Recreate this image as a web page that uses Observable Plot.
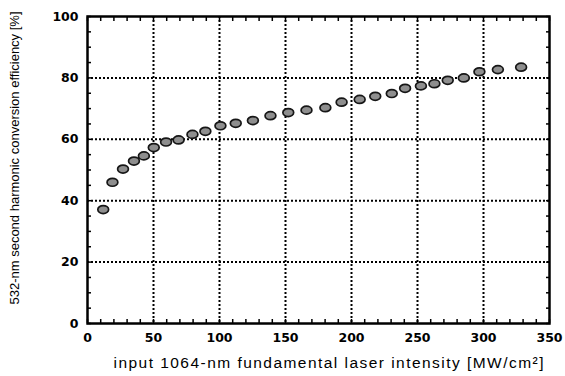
<!DOCTYPE html>
<html>
<head>
<meta charset="utf-8">
<script src="https://cdn.jsdelivr.net/npm/d3@7"></script>
<script src="https://cdn.jsdelivr.net/npm/@observablehq/plot@0.6"></script>
<style>
  html, body { margin: 0; padding: 0; background: #fff; }
</style>
</head>
<body>
<div id="chart"></div>
<script>
// Data
const intensity = [11.9, 18.9, 26.9, 35.2, 42.7, 50.2, 59.5, 69.0, 79.5, 89.3, 100.7, 112.3, 125.3, 138.6, 152.1, 165.9, 180.2, 192.5, 206.2, 218.0, 230.5, 240.6, 252.6, 262.8, 272.9, 285.1, 296.9, 310.9, 328.5];
const efficiency = [37.1, 46.0, 50.3, 52.9, 54.6, 57.3, 59.1, 59.8, 61.6, 62.6, 64.4, 65.2, 66.1, 67.7, 68.7, 69.5, 70.3, 72.1, 73.0, 74.0, 74.9, 76.6, 77.4, 78.1, 79.2, 80.0, 82.0, 82.7, 83.5];
const xTicks = [0, 50, 100, 150, 200, 250, 300, 350];
const yTicks = [0, 20, 40, 60, 80, 100];
const xGrid = [50, 100, 150, 200, 250, 300];
const yGrid = [20, 40, 60, 80];
const xMinor = d3.range(0, 351, 10);
const yMinor = d3.range(0, 101, 5);
const xLabel = "input 1064-nm fundamental laser intensity [MW/cm\u00B2]";
const yLabel = "532-nm second harmonic conversion efficiency [%]";

const data = intensity.map((x, i) => ({x, y: efficiency[i]}));

const ellipse = {
  draw(ctx, size) {
    const r = Math.sqrt(size / Math.PI);
    const rx = r * 1.2, ry = r * 0.88, k = 0.5523;
    ctx.moveTo(rx, 0);
    ctx.bezierCurveTo(rx, ry * k, rx * k, ry, 0, ry);
    ctx.bezierCurveTo(-rx * k, ry, -rx, ry * k, -rx, 0);
    ctx.bezierCurveTo(-rx, -ry * k, -rx * k, -ry, 0, -ry);
    ctx.bezierCurveTo(rx * k, -ry, rx, -ry * k, rx, 0);
    ctx.closePath();
  }
};

const tickFont = {fontFamily: "DejaVu Sans", fontWeight: "bold", fontSize: 12.5};
const blank = () => "";

const chart = Plot.plot({
  width: 565,
  height: 376,
  marginLeft: 87,
  marginRight: 16,
  marginTop: 16,
  marginBottom: 53,
  style: {fontFamily: "Liberation Sans, Arial, sans-serif", background: "white", color: "black"},
  x: {domain: [0, 350]},
  y: {domain: [0, 100]},
  marks: [
    Plot.gridX(xGrid, {stroke: "black", strokeOpacity: 1, strokeWidth: 2, strokeDasharray: "2,2"}),
    Plot.gridY(yGrid, {stroke: "black", strokeOpacity: 1, strokeWidth: 2, strokeDasharray: "2,2"}),
    Plot.axisX(xMinor, {anchor: "bottom", tickSize: -4, tickFormat: blank, label: null, strokeWidth: 1.5}),
    Plot.axisX(xMinor, {anchor: "top", tickSize: -4, tickFormat: blank, label: null, strokeWidth: 1.5}),
    Plot.axisY(yMinor, {anchor: "left", tickSize: -4, tickFormat: blank, label: null, strokeWidth: 1.5}),
    Plot.axisY(yMinor, {anchor: "right", tickSize: -4, tickFormat: blank, label: null, strokeWidth: 1.5}),
    Plot.axisX(xTicks, {anchor: "bottom", tickSize: 0, tickPadding: 10, label: null, ...tickFont}),
    Plot.axisY(yTicks, {anchor: "left", tickSize: 0, tickPadding: 9, label: null, ...tickFont}),
    Plot.frame({stroke: "black", strokeWidth: 2.5}),
    Plot.dot(data, {x: "x", y: "y", r: 4.5, symbol: ellipse, fill: "#8e8e8e", stroke: "#161616", strokeWidth: 1.7}),
    Plot.text([xLabel], {text: d => d, frameAnchor: "bottom", textAnchor: "middle", dy: 44, dx: 10, fontSize: 15.5}),
    Plot.text([yLabel], {text: d => d, frameAnchor: "left", textAnchor: "middle", rotate: -90, dx: -73, dy: -12, fontSize: 13.5})
  ]
});

d3.select(chart).selectAll("text").each(function() {
  const t = d3.select(this);
  if (t.text() === xLabel) t.attr("textLength", 430).attr("lengthAdjust", "spacing");
  if (t.text() === yLabel) t.attr("textLength", 293).attr("lengthAdjust", "spacingAndGlyphs");
});

document.getElementById("chart").appendChild(chart);
</script>
</body>
</html>
